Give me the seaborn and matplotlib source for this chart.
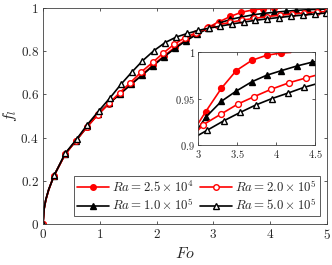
import matplotlib
matplotlib.use('Agg')
import matplotlib.pyplot as plt
import seaborn as sns
from matplotlib.ticker import FuncFormatter

# Ra = 2.5e4 (red, filled circles)
fo_a = [0, 0.02, 0.05, 0.1, 0.19, 0.39, 0.58, 0.78, 0.97, 1.16, 1.36, 1.55, 1.75, 1.94,
        2.13, 2.33, 2.52, 2.72, 2.91, 3.10, 3.30, 3.49, 3.69, 3.88, 4.07, 4.19]
fl_a = [0, 0.07, 0.112, 0.158, 0.222, 0.322, 0.385, 0.450, 0.508, 0.557, 0.603, 0.648, 0.693, 0.737,
        0.778, 0.820, 0.853, 0.884, 0.911, 0.936, 0.961, 0.980, 0.991, 0.9965, 0.999, 0.9995]

# Ra = 1.0e5 (black, filled triangles)
fo_b = [0, 0.02, 0.05, 0.1, 0.19, 0.39, 0.58, 0.78, 0.97, 1.16, 1.36, 1.55, 1.75, 1.94,
        2.13, 2.33, 2.52, 2.72, 2.91, 3.10, 3.30, 3.49, 3.69, 3.88, 4.07, 4.27, 4.46, 4.66, 4.85, 5.0]
fl_b = [0, 0.07, 0.112, 0.158, 0.223, 0.324, 0.386, 0.452, 0.510, 0.558, 0.603, 0.646, 0.690, 0.733,
        0.774, 0.814, 0.849, 0.879, 0.906, 0.930, 0.947, 0.958, 0.968, 0.975, 0.980, 0.985, 0.989, 0.992, 0.994, 0.995]

# Ra = 2.0e5 (red, open circles)
fo_c = [0, 0.02, 0.05, 0.1, 0.19, 0.39, 0.58, 0.77, 0.97, 1.16, 1.35, 1.54, 1.73, 1.93,
        2.12, 2.31, 2.50, 2.70, 2.89, 3.07, 3.29, 3.51, 3.72, 3.94, 4.17, 4.38, 4.60, 4.82, 5.0]
fl_c = [0, 0.07, 0.112, 0.158, 0.222, 0.323, 0.386, 0.450, 0.506, 0.558, 0.608, 0.655, 0.704, 0.748,
        0.792, 0.832, 0.863, 0.886, 0.906, 0.922, 0.933, 0.944, 0.952, 0.960, 0.967, 0.972, 0.977, 0.981, 0.984]

# Ra = 5.0e5 (black, open triangles)
fo_d = [0, 0.02, 0.05, 0.1, 0.2, 0.39, 0.59, 0.78, 0.98, 1.18, 1.37, 1.56, 1.75, 1.95,
        2.15, 2.35, 2.54, 2.73, 2.93, 3.12, 3.33, 3.54, 3.74, 3.95, 4.16, 4.36, 4.57, 4.78, 4.99]
fl_d = [0, 0.072, 0.114, 0.16, 0.226, 0.327, 0.392, 0.460, 0.523, 0.584, 0.646, 0.702, 0.755, 0.802,
        0.840, 0.866, 0.882, 0.896, 0.907, 0.916, 0.926, 0.935, 0.943, 0.950, 0.956, 0.962, 0.967, 0.972, 0.977]

labels = [r'$Ra = 2.5 \times 10^4$', r'$Ra = 1.0 \times 10^5$',
          r'$Ra = 2.0 \times 10^5$', r'$Ra = 5.0 \times 10^5$']

sns.set_style('ticks')
plt.rcParams['mathtext.fontset'] = 'cm'
plt.rcParams['font.family'] = ['DejaVu Serif']

edge = '#404040'


def marks(n, tail=0):
    # no markers on the extra points near Fo = 0
    return [0] + list(range(4, n - tail))


def draw(ax, lw, ms, mew, with_label):
    series = [
        (fo_a, fl_a, 'red', 'o', 'red', 1),
        (fo_b, fl_b, 'black', '^', 'black', 1),
        (fo_c, fl_c, 'red', 'o', 'white', 0),
        (fo_d, fl_d, 'black', '^', 'white', 0),
    ]
    for (x, y, c, m, fc, tail), lab in zip(series, labels):
        sns.lineplot(x=x, y=y, ax=ax, color=c, marker=m, markersize=ms,
                     markerfacecolor=fc, markeredgecolor=c, markeredgewidth=mew,
                     linewidth=lw, markevery=marks(len(x), tail),
                     label=lab if with_label else None, legend=False)


def style(ax, size, pad):
    for s in ax.spines.values():
        s.set_color(edge)
        s.set_linewidth(0.6)
    ax.tick_params(direction='in', top=True, right=True, length=2.5, width=0.6,
                   color=edge, labelsize=size, pad=pad)
    fmt = FuncFormatter(lambda v, p: f'${v:g}$')
    ax.xaxis.set_major_formatter(fmt)
    ax.yaxis.set_major_formatter(fmt)


fig = plt.figure(figsize=(3.32, 2.65), dpi=100)
ax = fig.add_axes([43 / 332, 41 / 265, 284 / 332, 216 / 265])
draw(ax, 1.2, 4.0, 1.0, True)
ax.set_xlim(0, 5)
ax.set_ylim(0, 1)
ax.set_xticks([0, 1, 2, 3, 4, 5])
ax.set_yticks([0, 0.2, 0.4, 0.6, 0.8, 1])
style(ax, 9.5, 3)
ax.set_xlabel('$Fo$', fontsize=11.5, labelpad=2)
ax.set_ylabel('$f_l$', fontsize=11.5, labelpad=1)

leg = ax.legend(ncol=2, loc='lower right', bbox_to_anchor=(0.975, 0.035),
                borderaxespad=0, fontsize=9.3, handlelength=2.5, handletextpad=0.2,
                columnspacing=0.5, labelspacing=0.2, borderpad=0.25,
                frameon=True, fancybox=False, framealpha=1)
leg.get_frame().set_edgecolor(edge)
leg.get_frame().set_linewidth(0.6)

ins = fig.add_axes([198 / 332, 120 / 265, 117 / 332, 93 / 265])
draw(ins, 1.2, 4.2, 1.0, False)
ins.set_xlim(3, 4.5)
ins.set_ylim(0.9, 1)
ins.set_xticks([3, 3.5, 4, 4.5])
ins.set_yticks([0.9, 0.95, 1])
style(ins, 7.5, 2)
ins.set_xlabel('')
ins.set_ylabel('')

fig.savefig('out.png', dpi=100)
